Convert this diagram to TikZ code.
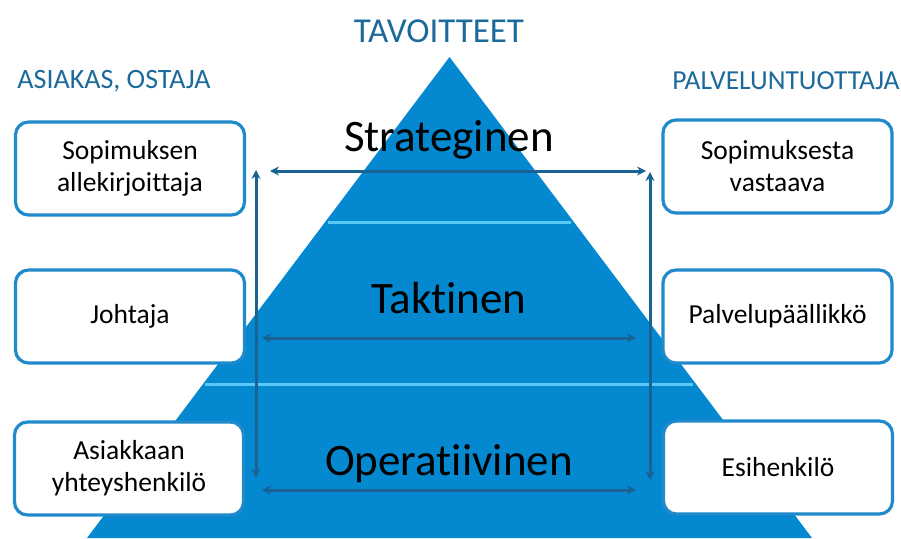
\documentclass[tikz,border=0pt]{standalone}
\usepackage{fontspec}
\setmainfont[Ligatures={NoCommon}]{Carlito}
\usetikzlibrary{arrows.meta}
\definecolor{pyr}{RGB}{4,136,208}
\definecolor{band}{RGB}{90,200,245}
\definecolor{hdr}{RGB}{28,106,156}
\definecolor{arr}{RGB}{24,98,148}
\definecolor{boxb}{RGB}{32,138,202}
\begin{document}
\begin{tikzpicture}[x=1pt,y=-1pt,
 card/.style={draw=boxb,line width=3.2pt,rounded corners=13pt,fill=white,minimum width=229pt,minimum height=93pt,align=center,font=\fontsize{27.5}{32}\selectfont,inner sep=0pt},
 hdrtext/.style={text=hdr,inner sep=0pt},
 level/.style={font=\fontsize{45}{50}\selectfont,inner sep=0pt,anchor=base},
 conn/.style={draw=arr,line width=3pt,{Stealth[length=9pt,width=9pt]}-{Stealth[length=9pt,width=9pt]}},
 bandline/.style={draw=band,line width=3pt}]
\useasboundingbox (0,0) rectangle (901,538);
\begin{scope}
\clip (0,0) rectangle (901,538);
\fill[pyr] (449.5,57) -- (812,538) -- (87,538) -- cycle;
\end{scope}
\coordinate (b1l) at (328,222); \coordinate (b1r) at (571,222);
\coordinate (b2l) at (205,384); \coordinate (b2r) at (693,384);
\draw[bandline] (b1l) -- (b1r);
\draw[bandline] (b2l) -- (b2r);
% headers
\node[hdrtext,font=\fontsize{35}{40}\selectfont] (tav) at (439,31) {TAVOITTEET};
\node[hdrtext,font=\fontsize{28}{32}\selectfont] (asi) at (114,81) {ASIAKAS, OSTAJA};
\node[hdrtext,font=\fontsize{27.5}{32}\selectfont] (pal) at (786,81) {PALVELUNTUOTTAJA};
% levels
\node[level] (str) at (449,151) {Strateginen};
\node[level] (tak) at (449,313) {Taktinen};
\node[level] (ope) at (449,475) {Operatiivinen};
% boxes
\node[card] (l1) at (130,168.5) {Sopimuksen\\allekirjoittaja};
\node[card] (l2) at (130,316.5) {Johtaja};
\node[card] (l3) at (129,468.5) {Asiakkaan\\yhteyshenkilö};
\node[card] (r1) at (777.5,166.5) {Sopimuksesta\\vastaava};
\node[card] (r2) at (777.5,316.5) {Palvelupäällikkö};
\node[card] (r3) at (778,467.5) {Esihenkilö};
% arrows
\coordinate (h1a) at (270,171); \coordinate (h1b) at (646,171);
\coordinate (h2a) at (262,338); \coordinate (h2b) at (636,338);
\coordinate (h3a) at (262,490); \coordinate (h3b) at (636,490);
\coordinate (v1a) at (256,170); \coordinate (v1b) at (256,478);
\coordinate (v2a) at (650,172); \coordinate (v2b) at (650,480);
\draw[conn] (h1a) -- (h1b);
\draw[conn] (h2a) -- (h2b);
\draw[conn] (h3a) -- (h3b);
\draw[conn] (v1a) -- (v1b);
\draw[conn] (v2a) -- (v2b);
\end{tikzpicture}
\end{document}
